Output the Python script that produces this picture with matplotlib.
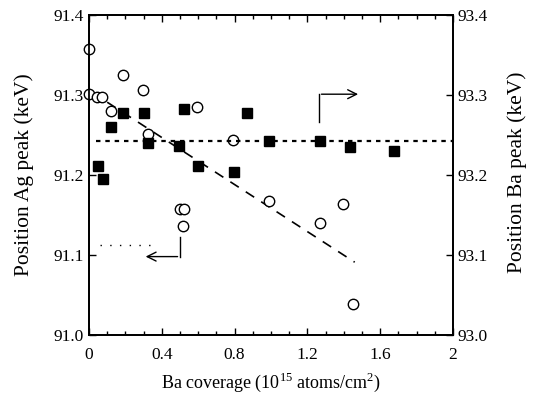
import matplotlib
matplotlib.use("Agg")
import matplotlib.pyplot as plt
from matplotlib.ticker import MultipleLocator, FixedLocator, FormatStrFormatter

plt.rcParams['font.family'] = ['Liberation Serif', 'DejaVu Serif']
plt.rcParams['mathtext.fontset'] = 'custom'
plt.rcParams['mathtext.rm'] = 'Liberation Serif'

# Ag peak position (open circles, left axis)
ag_cov = [0.0, 0.0, 0.042, 0.069, 0.119, 0.185, 0.298, 0.325, 0.593, 0.791,
          0.50, 0.52, 0.515, 0.988, 1.397, 1.270, 1.452]
ag_pos = [91.357, 91.301, 91.298, 91.298, 91.280, 91.325, 91.306, 91.251, 91.285, 91.244,
          91.158, 91.158, 91.136, 91.167, 91.164, 91.140, 91.039]

# Ba peak position (filled squares, right axis)
ba_cov = [0.051, 0.075, 0.119, 0.185, 0.301, 0.325, 0.521, 0.495, 0.599, 0.795,
          0.870, 0.988, 1.270, 1.434, 1.677]
ba_pos = [93.211, 93.195, 93.260, 93.278, 93.278, 93.240, 93.282, 93.236, 93.211, 93.204,
          93.278, 93.242, 93.242, 93.235, 93.230]

# guide lines
ag_fit_x = [0.10, 1.46]
ag_fit_y = [91.291, 91.091]
ba_mean_x = [0.04, 2.0]
ba_mean_y = [93.242, 93.242]

fig = plt.figure(figsize=(5.38, 4.01), dpi=100)
ax = fig.add_axes([0.1654, 0.1646, 0.6766, 0.798])
ax2 = ax.twinx()

ax.plot(ag_cov, ag_pos, 'o', mfc='white', mec='black', mew=1.0, ms=7.5, zorder=3, clip_on=False)
ax.plot(ag_fit_x, ag_fit_y, color='black', lw=1.2, ls=(0, (6, 5)))
# faint dotted stub left of the lower arrow
ax.plot([0.06, 0.37], [91.113, 91.113], color='black', lw=1.0, ls=(0, (1, 6)))

ax2.plot(ba_cov, ba_pos, 's', mfc='black', mec='black', ms=7, zorder=3)
ax2.plot(ba_mean_x, ba_mean_y, color='black', lw=1.6, ls=(0, (2, 2.2)))

# arrows pointing at the relevant axis
ax.plot([0.502, 0.502], [91.122, 91.098], color='black', lw=1.0)
ax.annotate('', xy=(0.296, 91.098), xytext=(0.502, 91.098),
            arrowprops=dict(arrowstyle='->', lw=1.0, color='black', mutation_scale=16))
ax2.plot([1.262, 1.262], [93.266, 93.301], color='black', lw=1.0)
ax2.annotate('', xy=(1.494, 93.301), xytext=(1.262, 93.301),
             arrowprops=dict(arrowstyle='->', lw=1.0, color='black', mutation_scale=16))

ax.set_xlim(0, 2)
ax.set_ylim(91.0, 91.4)
ax2.set_ylim(93.0, 93.4)

xt = [0, 0.4, 0.8, 1.2, 1.6, 2]
ax.xaxis.set_major_locator(FixedLocator(xt))
ax.set_xticklabels(['0', '0.4', '0.8', '1.2', '1.6', '2'])
ax.xaxis.set_minor_locator(MultipleLocator(0.1))
ax.yaxis.set_major_locator(MultipleLocator(0.1))
ax2.yaxis.set_major_locator(MultipleLocator(0.1))
ax.yaxis.set_major_formatter(FormatStrFormatter('%.1f'))
ax2.yaxis.set_major_formatter(FormatStrFormatter('%.1f'))

ax.tick_params(axis='both', which='both', direction='in', top=True, labelsize=12.5, width=1.0)
ax.tick_params(axis='x', which='major', length=5, pad=9)
ax.tick_params(axis='x', which='minor', length=3)
ax.tick_params(axis='y', which='major', length=5)
ax2.tick_params(axis='y', direction='in', length=5, labelsize=12.5, width=1.0)

for a in (ax, ax2):
    for s in a.spines.values():
        s.set_linewidth(1.3)

ax.set_xlabel('Ba coverage (10$^{15}$ atoms/cm$^2$)', fontsize=13, labelpad=5)
ax.set_ylabel('Position Ag peak (keV)', fontsize=15.5, labelpad=0)
ax2.set_ylabel('Position Ba peak (keV)', fontsize=15.5, labelpad=6)
ax.yaxis.set_label_coords(-0.15, 0.5)
ax2.yaxis.set_label_coords(1.15, 0.51)

fig.savefig('out.png', dpi=100)
